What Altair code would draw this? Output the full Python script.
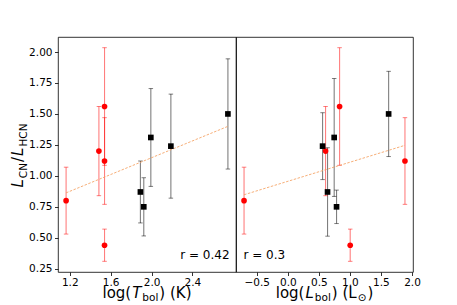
import altair as alt
import pandas as pd

# ---------------- data ----------------
groups = ["red"] * 5 + ["black"] * 5
ratio = [0.80, 1.20, 1.56, 1.12, 0.44, 0.87, 0.75, 1.31, 1.24, 1.50]
log_tbol = [1.164, 1.485, 1.540, 1.540, 1.540, 1.891, 1.924, 1.993, 2.189, 2.747]
err_tbol = [0.27, 0.36, 0.475, 0.35, 0.13, 0.25, 0.235, 0.395, 0.42, 0.445]
log_lbol = [-0.705, 0.608, 0.834, 1.887, 1.005, 0.640, 0.785, 0.747, 0.560, 1.624]
err_lbol = [0.27, 0.36, 0.475, 0.35, 0.13, 0.357, 0.135, 0.476, 0.27, 0.344]
left_ticks = [1.2, 1.6, 2.0, 2.4]
right_ticks = [-0.5, 0.0, 0.5, 1.0, 1.5, 2.0]
y_ticks = [0.25, 0.50, 0.75, 1.00, 1.25, 1.50, 1.75, 2.00]
r_labels = ["r = 0.42", "r = 0.3"]

FONT = "DejaVu Sans"
W_PANEL_L, W_PANEL_R, H_PANEL = 178, 177, 235
LABEL_SIZE, SUB_SIZE = 15, 10.5
GAP = 1.0

# DejaVu Sans advance widths (em)
ADV = {' ': 0.318, '(': 0.390, ')': 0.390, '.': 0.318, '/': 0.337, '=': 0.838,
       'C': 0.698, 'H': 0.752, 'K': 0.656, 'L': 0.557, 'N': 0.748, 'T': 0.611,
       'b': 0.635, 'g': 0.635, 'l': 0.278, 'o': 0.612, 'r': 0.411, '\u2299': 0.838}
for d in "0123456789":
    ADV[d] = 0.636


def text_width(s, size):
    return sum(ADV.get(c, 0.6) for c in s) * size


def padded(lo, hi):
    p = 0.05 * (hi - lo)
    return [lo - p, hi + p]


lo_all = [r - e for r, e in zip(ratio, err_tbol)] + [r - e for r, e in zip(ratio, err_lbol)]
hi_all = [r + e for r, e in zip(ratio, err_tbol)] + [r + e for r, e in zip(ratio, err_lbol)]
y_dom = padded(min(lo_all), max(hi_all))


def rich_label(pieces, center, base, rotate=False, sub_shift=3.0):
    sizes = [SUB_SIZE if sub else LABEL_SIZE for _, _, sub in pieces]
    widths = [text_width(t, s) for (t, _, _), s in zip(pieces, sizes)]
    total = sum(widths) + GAP * (len(pieces) - 1)
    cum = 0.0
    layers = []
    for (t, ital, sub), s, w in zip(pieces, sizes, widths):
        if rotate:
            px = base + (sub_shift if sub else 0)
            py = center + total / 2 - cum
        else:
            px = center - total / 2 + cum
            py = base + (sub_shift if sub else 0)
        layers.append(
            alt.Chart(pd.DataFrame({"t": [t]}))
            .mark_text(align="left", baseline="alphabetic", font=FONT, fontSize=s,
                       fontStyle="italic" if ital else "normal",
                       angle=270 if rotate else 0, color="black")
            .encode(text="t:N", x=alt.value(px), y=alt.value(py))
        )
        cum += w + GAP
    return layers


def panel(xvals, errs, ticks, width, show_y, r_text, r_x, r_align, xlabel_pieces):
    df = pd.DataFrame({
        "x": xvals,
        "y": ratio,
        "lo": [r - e for r, e in zip(ratio, errs)],
        "hi": [r + e for r, e in zip(ratio, errs)],
        "g": groups,
    })
    x_dom = padded(min(xvals), max(xvals))
    xaxis = alt.Axis(values=ticks, format=".1f", title=None, grid=False, domain=False,
                     tickSize=3.5, tickWidth=0.8, tickColor="black", labelPadding=1.5,
                     labelFont=FONT, labelFontSize=10.5, labelColor="black")
    if show_y:
        yaxis = alt.Axis(values=y_ticks, format=".2f", title=None, grid=False, domain=False,
                         tickSize=3.5, tickWidth=0.8, tickColor="black", labelPadding=2.5,
                         labelFont=FONT, labelFontSize=10.5, labelColor="black")
    else:
        yaxis = None

    def X(f="x"):
        return alt.X(f + ":Q", scale=alt.Scale(domain=x_dom, nice=False, zero=False), axis=xaxis)

    def Y(f):
        return alt.Y(f + ":Q", scale=alt.Scale(domain=y_dom, nice=False, zero=False), axis=yaxis)

    col = alt.Color("g:N", scale=alt.Scale(domain=["red", "black"], range=["#ff0000", "#000000"]),
                    legend=None)
    base = alt.Chart(df)
    bars = base.mark_rule(opacity=0.5, strokeWidth=1.1).encode(x=X(), y=Y("lo"), y2="hi:Q", color=col)
    cap_lo = base.mark_tick(orient="horizontal", size=4.5, thickness=1, opacity=0.5).encode(
        x=X(), y=Y("lo"), color=col)
    cap_hi = base.mark_tick(orient="horizontal", size=4.5, thickness=1, opacity=0.5).encode(
        x=X(), y=Y("hi"), color=col)
    fit = base.transform_regression("x", "y").mark_line(
        color="#f4a060", strokeWidth=1, strokeDash=[2.5, 1.5], opacity=0.85).encode(x=X(), y=Y("y"))
    circles = base.transform_filter(alt.datum.g == "red").mark_point(
        shape="circle", filled=True, size=32, color="#ff0000", opacity=1).encode(x=X(), y=Y("y"))
    squares = base.transform_filter(alt.datum.g == "black").mark_point(
        shape="square", filled=True, size=32, color="#000000", opacity=1).encode(x=X(), y=Y("y"))
    rtxt = alt.Chart(pd.DataFrame({"t": [r_text]})).mark_text(
        align=r_align, baseline="alphabetic", font=FONT, fontSize=12, color="black").encode(
        text="t:N", x=alt.value(r_x), y=alt.value(222))
    layers = [bars, cap_lo, cap_hi, fit, circles, squares, rtxt]
    layers += rich_label(xlabel_pieces, width / 2, 261)
    if show_y:
        ypieces = [("L", True, False), ("CN", False, True), ("/", False, False),
                   ("L", True, False), ("HCN", False, True)]
        layers += rich_label(ypieces, 118.5, -34.7, rotate=True, sub_shift=4)
        anchor = alt.Chart(pd.DataFrame({"a": [0]})).mark_rule(color="white", strokeWidth=1).encode(
            x=alt.value(-48.2), y=alt.value(-27.5), y2=alt.value(-26.5))
        layers.append(anchor)
    return alt.layer(*layers).properties(width=width, height=H_PANEL)


left = panel(log_tbol, err_tbol, left_ticks, W_PANEL_L, True, r_labels[0], W_PANEL_L - 6.4, "right",
             [("log(", False, False), ("T", True, False), ("bol", False, True), (") (K)", False, False)])
right = panel(log_lbol, err_lbol, right_ticks, W_PANEL_R, False, r_labels[1], 7.4, "left",
              [("log(", False, False), ("L", True, False), ("bol", False, True), (") (L", False, False),
               ("\u2299", False, True), (")", False, False)])

chart = (
    alt.hconcat(left, right, spacing=0, bounds="flush")
    .properties(padding={"left": 0, "top": 0, "right": 5, "bottom": 5})
    .configure_view(stroke="black", strokeWidth=0.8)
)

chart.save("out.html", embed_options={"renderer": "svg", "actions": False})
